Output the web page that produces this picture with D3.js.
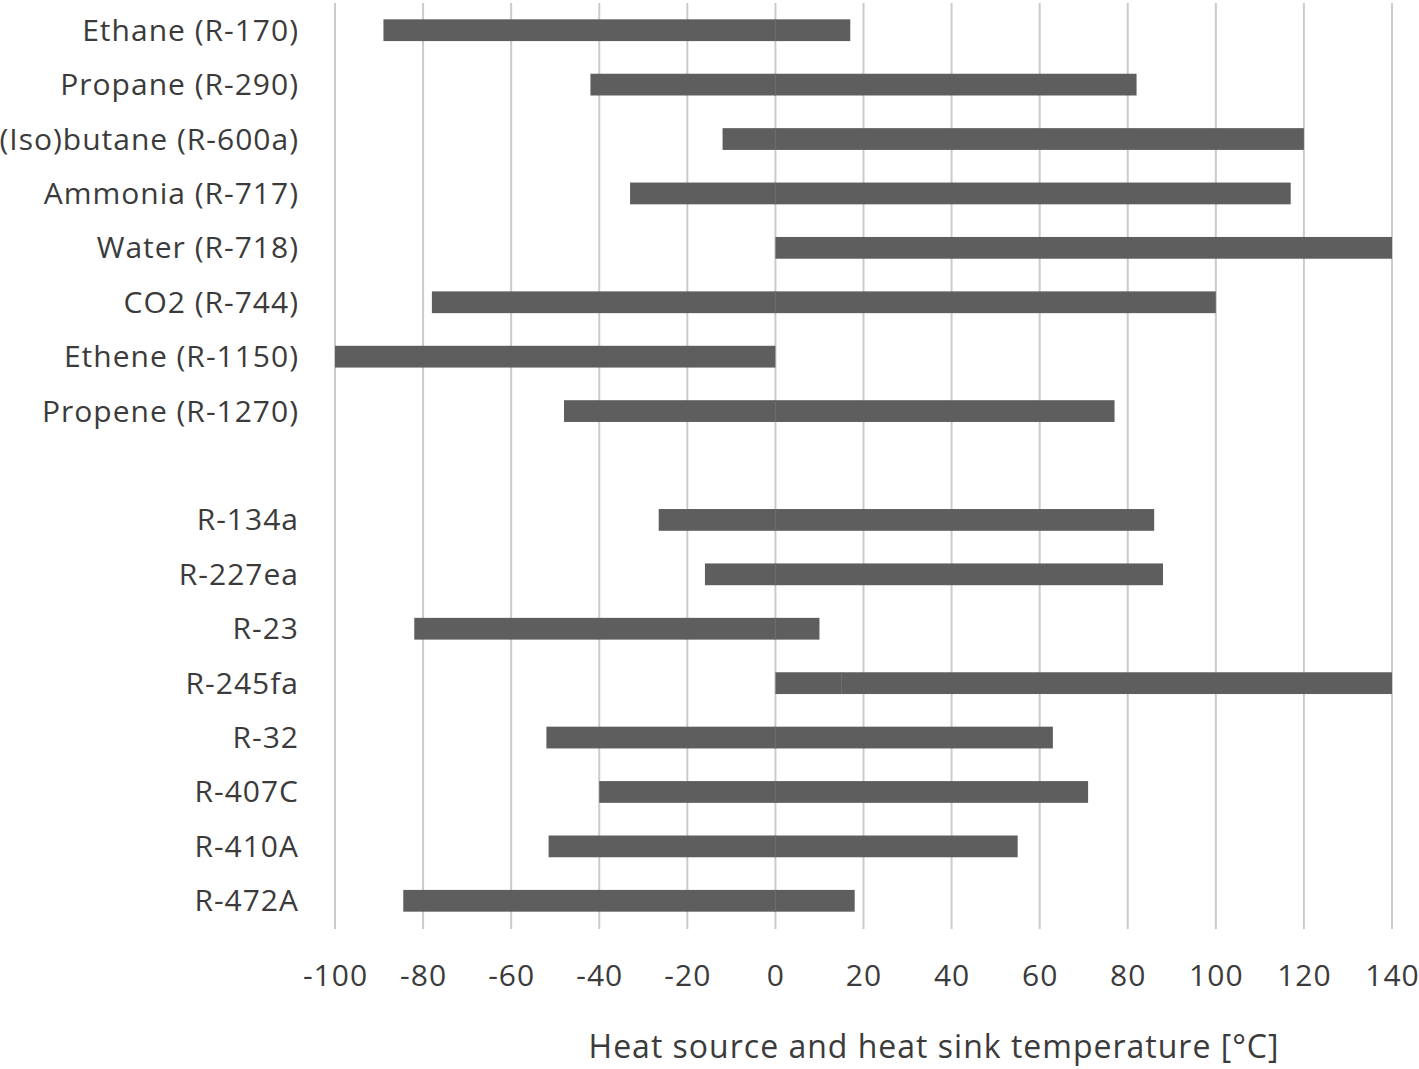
<!DOCTYPE html>
<html>
  <head>
    <meta charset="utf-8">
    <script src="https://d3js.org/d3.v7.min.js" charset="utf-8"></script>
    <style>
      body { margin: 0; background: #fff; }
      text { font-family: "Open Sans", "Noto Sans", sans-serif; fill: #3b3b3b; letter-spacing: 1px; }
    </style>
  </head>
  <body>
    <script type="text/javascript">

// refrigerants, one blank row between natural and synthetic ones
var names = [
  "Ethane (R-170)", "Propane (R-290)", "(Iso)butane (R-600a)", "Ammonia (R-717)",
  "Water (R-718)", "CO2 (R-744)", "Ethene (R-1150)", "Propene (R-1270)",
  "",
  "R-134a", "R-227ea", "R-23", "R-245fa", "R-32", "R-407C", "R-410A", "R-472A"
];
var lowTemp  = [-89, -42, -12, -33,   0, -78, -100, -48, null, -26.5, -16, -82,   0, -52, -40, -51.5, -84.5];
var splitAt  = [  0,   0,   0,   0,   0,   0,    0,   0, null,     0,   0,   0,  15,   0,   0,     0,     0];
var highTemp = [ 17,  82, 120, 117, 140, 100,    0,  77, null,    86,  88,  10, 140,  63,  71,    55,    18];
var xTicks = [-100, -80, -60, -40, -20, 0, 20, 40, 60, 80, 100, 120, 140];

var w = 1419;
var h = 1069;

var rows = names.map(function(n, i) {
  return { key: "row" + i, name: n, lo: lowTemp[i], mid: splitAt[i], hi: highTemp[i] };
});

var x = d3.scaleLinear().domain([-100, 140]).range([335, 1392]);
var y = d3.scaleBand()
    .domain(rows.map(function(d) { return d.key; }))
    .range([3, 928])
    .paddingInner(0.6)
    .paddingOuter(0.3);

var svg =
  d3.select("body")
    .append("svg")
    .attr("width", w)
    .attr("height", h);

// vertical gridlines
svg.selectAll("line.grid")
    .data(xTicks)
    .enter()
    .append("line")
    .attr("class", "grid")
    .attr("x1", function(d) { return x(d); })
    .attr("x2", function(d) { return x(d); })
    .attr("y1", 3)
    .attr("y2", 929)
    .style("stroke", "#cbcbcb")
    .style("stroke-width", 2);

var data = rows.filter(function(d) { return d.lo !== null; });

svg.selectAll("rect.bar")
    .data(data)
    .enter()
    .append("rect")
    .attr("class", "bar")
    .attr("x", function(d) { return x(d.lo); })
    .attr("y", function(d) { return y(d.key); })
    .attr("width", function(d) { return x(d.hi) - x(d.lo); })
    .attr("height", y.bandwidth())
    .style("fill", "#5e5e5e");

// faint seam where the two stacked segments meet
svg.selectAll("line.seam")
    .data(data.filter(function(d) { return d.mid > d.lo && d.mid < d.hi; }))
    .enter()
    .append("line")
    .attr("class", "seam")
    .attr("x1", function(d) { return x(d.mid); })
    .attr("x2", function(d) { return x(d.mid); })
    .attr("y1", function(d) { return y(d.key); })
    .attr("y2", function(d) { return y(d.key) + y.bandwidth(); })
    .style("stroke", "#6e6e6e")
    .style("stroke-width", 1);

// category labels
svg.selectAll("text.cat")
    .data(rows)
    .enter()
    .append("text")
    .attr("class", "cat")
    .attr("x", 299)
    .attr("y", function(d) { return y(d.key) + y.bandwidth() / 2; })
    .attr("dy", "0.35em")
    .attr("text-anchor", "end")
    .style("font-size", "30px")
    .text(function(d) { return d.name; });

var xAxis = d3.axisBottom(x)
    .tickValues(xTicks)
    .tickFormat(function(d) { return String(d); })
    .tickSize(0)
    .tickPadding(0);
var ax = svg.append("g")
    .attr("transform", "translate(0,975)")
    .call(xAxis);
ax.select(".domain").remove();
ax.selectAll("text")
    .attr("dy", "0.35em")
    .style("font-size", "30px")
    .style("font-family", "'Open Sans', 'Noto Sans', sans-serif")
    .style("letter-spacing", "1px")
    .style("fill", "#3b3b3b");

svg.append("text")
    .attr("x", 934)
    .attr("y", 1047)
    .attr("dy", "0.35em")
    .attr("text-anchor", "middle")
    .style("font-size", "32px")
    .text("Heat source and heat sink temperature [°C]");

    </script>
  </body>
</html>
